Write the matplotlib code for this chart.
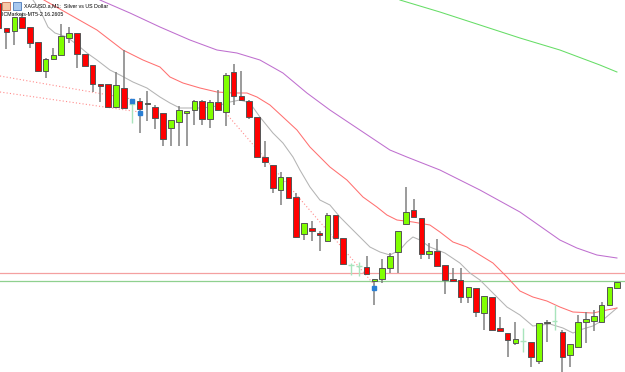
import numpy as np
import matplotlib.pyplot as plt
from matplotlib.patches import Rectangle

# XAGUSD M1 candles, prices in points (price = pts / 1000)
opens = [16469, 16444, 16441, 16455, 16445, 16430, 16401, 16413, 16417, 16434,
         16439, 16418, 16407, 16388, 16388, 16365, 16384, 16368, 16371, 16368,
         16365, 16359, 16344, 16350, 16359, 16362, 16371, 16353, 16370, 16360,
         16400, 16376, 16371, 16355, 16315, 16307, 16282, 16295, 16275, 16238,
         16244, 16239, 16231, 16257, 16234, 16207, 16206, 16205, 16191, 16193,
         16204, 16220, 16248, 16262, 16254, 16218, 16221, 16207, 16193, 16192,
         16175, 16184, 16159, 16175, 16144, 16139, 16129, 16131, 16130, 16111,
         16149, 16151, 16140, 16117, 16125, 16150, 16151, 16150, 16167, 16184]
highs = [16472, 16444, 16455, 16458, 16445, 16430, 16414, 16424, 16448, 16445,
         16439, 16418, 16407, 16388, 16388, 16400, 16422, 16372, 16374, 16381,
         16367, 16359, 16352, 16366, 16361, 16372, 16372, 16372, 16382, 16399,
         16408, 16401, 16372, 16355, 16331, 16307, 16300, 16295, 16279, 16249,
         16251, 16241, 16259, 16257, 16234, 16209, 16210, 16216, 16193, 16213,
         16219, 16241, 16285, 16273, 16254, 16229, 16233, 16207, 16204, 16204,
         16185, 16184, 16176, 16175, 16155, 16139, 16150, 16144, 16130, 16149,
         16152, 16167, 16142, 16128, 16157, 16160, 16162, 16170, 16185, 16190]
lows = [16442, 16423, 16427, 16444, 16424, 16400, 16394, 16412, 16417, 16429,
        16404, 16406, 16380, 16370, 16364, 16364, 16364, 16349, 16339, 16351,
        16343, 16326, 16326, 16326, 16326, 16347, 16347, 16344, 16362, 16346,
        16367, 16372, 16353, 16315, 16305, 16279, 16267, 16274, 16234, 16232,
        16231, 16221, 16231, 16234, 16208, 16197, 16196, 16198, 16167, 16189,
        16199, 16199, 16248, 16255, 16213, 16213, 16206, 16178, 16191, 16169,
        16169, 16155, 16142, 16142, 16141, 16115, 16127, 16120, 16105, 16108,
        16130, 16142, 16100, 16105, 16125, 16129, 16141, 16150, 16167, 16184]
closes = [16444, 16440, 16455, 16444, 16429, 16401, 16413, 16417, 16436, 16439,
          16418, 16406, 16388, 16386.5, 16365, 16387, 16364, 16368, 16363, 16369,
          16354, 16333, 16352, 16362, 16361, 16371, 16353, 16370, 16362, 16397,
          16376, 16372, 16355, 16315, 16310, 16284, 16295, 16274, 16235, 16249,
          16241, 16237.5, 16257, 16234, 16208, 16207, 16206, 16198, 16193, 16204,
          16216, 16241, 16260, 16255, 16218, 16221, 16206, 16192, 16191, 16175,
          16185, 16160, 16176, 16142, 16141, 16132, 16133, 16131, 16115, 16149,
          16150, 16151, 16115, 16128, 16150, 16153, 16156, 16167, 16185, 16190]

# indicator lines: (bar index, price pts)
ma_fast_x = [4.38, 5.27, 6.30, 7.19, 8.72, 10.38, 11.28, 12.55, 14.21, 15.49, 17.15, 18.94,
             20.60, 21.88, 23.15, 26.09, 27.88, 29.54, 30.82, 32.09, 33.37, 35.03, 36.31,
             37.59, 38.48, 39.76, 41.03, 42.31, 43.59, 44.86, 46.14, 47.42, 48.70, 49.97,
             51.25, 52.14, 52.91, 53.81, 55.08, 57.0, 58.91, 60.19, 61.47, 63.13, 64.92,
             66.58, 68.23, 70.41, 72.07, 73.35, 74.62, 75.90, 77.18, 78.97]
ma_fast_y = [16472, 16462, 16445, 16439, 16435, 16425, 16419, 16412, 16402, 16397, 16390, 16384,
             16375, 16369, 16364, 16364, 16366, 16370, 16372, 16369, 16355, 16339, 16329,
             16315, 16302, 16285, 16272, 16267, 16255, 16245, 16235, 16225, 16220, 16217,
             16222, 16230, 16235, 16232, 16225, 16219, 16209, 16199, 16192, 16179, 16165,
             16157, 16146, 16148, 16144, 16139, 16143, 16146, 16152, 16164]
ma_mid_x = [5.78, 8.72, 12.55, 15.87, 18.43, 20.60, 21.88, 23.54, 25.71, 27.88, 29.92, 31.71,
            32.99, 34.65, 36.31, 38.10, 39.76, 42.31, 44.48, 46.53, 48.31, 49.59, 50.87,
            52.91, 55.08, 56.36, 58.02, 59.81, 61.47, 63.13, 64.92, 66.58, 68.23, 70.02,
            71.68, 73.35, 75.90, 77.69, 78.97]
ma_mid_y = [16472, 16459, 16442, 16422, 16412, 16405, 16395, 16389, 16384, 16380, 16379, 16379,
            16375, 16367, 16355, 16342, 16325, 16305, 16292, 16275, 16265, 16257, 16252,
            16250, 16247, 16240, 16230, 16225, 16217, 16209, 16195, 16181, 16175, 16171,
            16165, 16160, 16159, 16162, 16164]
ma_slow_x = [12.94, 16.77, 20.60, 24.43, 27.88, 30.43, 33.37, 36.31, 39.37, 42.31, 46.14,
             49.97, 52.14, 56.36, 61.47, 66.58, 71.68, 73.85, 76.41, 78.97]
ma_slow_y = [16472, 16459, 16445, 16432, 16422, 16419, 16412, 16399, 16379, 16362, 16342,
             16322, 16315, 16302, 16282, 16260, 16232, 16224, 16217, 16214]
ma_long_x = [51.25, 56.36, 61.47, 66.58, 71.68, 76.79, 78.97]
ma_long_y = [16472, 16460, 16447, 16434, 16422, 16407, 16400]

# drawn objects
level_red = 16199
level_green = 16191
trend_lines = [((0.17, 17.0), (16396, 16373)),
               ((0.17, 18.0), (16380, 16360)),
               ((29.0, 48.0), (16359, 16187))]
marks_x = [17, 18, 48]
marks_y = [16371, 16359, 16184]

fig = plt.figure(figsize=(6.25, 3.72), dpi=100)
ax = fig.add_axes([0, 0, 1, 1])
ax.set_xlim(0.17, 80.0)
ax.set_ylim(16100, 16472)
ax.axis('off')

ax.axhline(level_red, color='#f4a0a0', lw=0.9, zorder=1)
ax.axhline(level_green, color='#8fd08f', lw=0.9, zorder=1)

for xs, ys in trend_lines:
    ax.plot(xs, ys, color='#ff8c8c', lw=0.8, ls=(0, (1, 2)), zorder=1)

ax.plot(ma_fast_x, ma_fast_y, color='#b4b4b4', lw=0.75, zorder=1)
ax.plot(ma_mid_x, ma_mid_y, color='#ff7070', lw=0.75, zorder=1)
ax.plot(ma_slow_x, ma_slow_y, color='#bf6fcf', lw=0.75, zorder=1)
ax.plot(ma_long_x, ma_long_y, color='#66dd66', lw=0.75, zorder=1)

for i in range(len(opens)):
    o, h, l, c = opens[i], highs[i], lows[i], closes[i]
    if o == c:
        # doji
        ax.vlines(i, l, h, color='#a8e4bc', lw=1.0, zorder=2)
        ax.hlines(o, i - 0.35, i + 0.35, color='#a8e4bc', lw=1.0, zorder=2)
        continue
    ax.vlines(i, l, h, color='#808080', lw=1.1, zorder=2)
    col = '#80ff00' if c > o else '#ff0000'
    ax.bar(i, c - o, bottom=o, width=0.72, color=col, edgecolor='#555555',
           linewidth=0.7, zorder=3)

ax.plot(marks_x, marks_y, 's', color='#2a7fd4', markersize=2.5, zorder=4)

# header
fig.patches.append(Rectangle((2 / 625, 1 - 10 / 372), 8 / 625, 8 / 372, transform=fig.transFigure,
                             facecolor='#f6c9a8', edgecolor='#d07050', lw=0.6))
fig.patches.append(Rectangle((13 / 625, 1 - 10 / 372), 8 / 625, 8 / 372, transform=fig.transFigure,
                             facecolor='#a9c8ee', edgecolor='#4a78b8', lw=0.6))
fig.text(24 / 625, 1 - 6 / 372, 'XAGUSD.a,M1:  Silver vs US Dollar', fontsize=3.8,
         family='Liberation Sans', va='center', ha='left', color='black')
fig.text(2 / 625, 1 - 15 / 372, 'ICMarkets-MT5-2 16.2605', fontsize=3.8,
         family='Liberation Sans', va='center', ha='left', color='black')

fig.savefig('out.png', dpi=100, facecolor='white')
